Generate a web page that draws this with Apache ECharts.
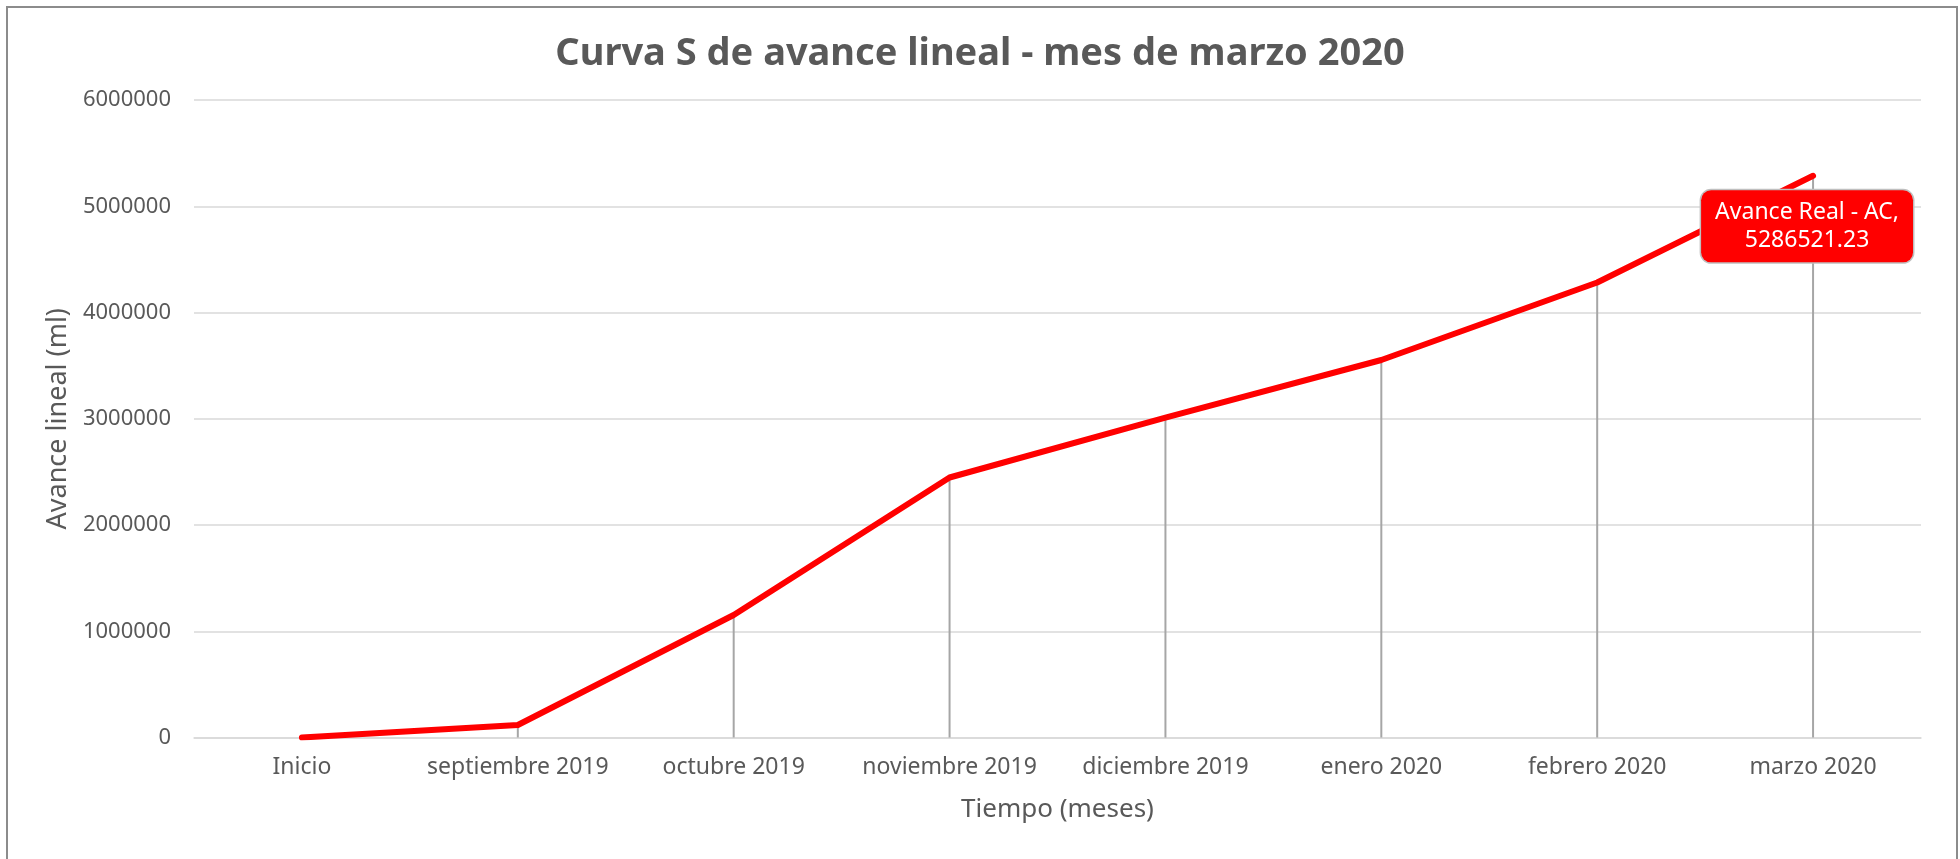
<!DOCTYPE html>
<html>
<head>
<meta charset="utf-8">
<title>Curva S de avance lineal</title>
<script src="https://cdn.jsdelivr.net/npm/echarts@6/dist/echarts.min.js"></script>
<style>
  html, body { margin: 0; padding: 0; background: #fff; }
  #chart { width: 1960px; height: 859px; }
</style>
</head>
<body>
<div id="chart"></div>
<script>
  // meses del avance
  const categories = ['Inicio', 'septiembre 2019', 'octubre 2019', 'noviembre 2019',
    'diciembre 2019', 'enero 2020', 'febrero 2020', 'marzo 2020'];
  // avance real acumulado (ml)
  const avanceReal = [0, 118000, 1153000, 2447000, 3010000, 3553000, 4282000, 5286521.23];
  const yTicks = [0, 1000000, 2000000, 3000000, 4000000, 5000000, 6000000];

  const fontFamily = '"Noto Sans", sans-serif';
  const textColor = '#595959';
  const last = avanceReal.length - 1;

  let option = {
    textStyle: { fontFamily: fontFamily },
    title: {
      text: 'Curva S de avance lineal - mes de marzo 2020',
      left: 'center',
      top: 30,
      textStyle: {
        color: textColor,
        fontSize: 38,
        fontWeight: 'bold',
        fontFamily: fontFamily
      }
    },
    // marco del grafico
    graphic: [{
      type: 'rect',
      silent: true,
      shape: { x: 7, y: 7, width: 1950, height: 900 },
      style: { fill: 'none', stroke: '#8c8c8c', lineWidth: 2 }
    }],
    grid: {
      left: 194,
      right: 39,
      top: 100,
      bottom: 121.5
    },
    xAxis: {
      type: 'category',
      data: categories,
      name: 'Tiempo (meses)',
      nameLocation: 'middle',
      nameGap: 59,
      nameTextStyle: { color: textColor, fontSize: 26 },
      axisLine: { lineStyle: { color: '#d9d9d9', width: 1.5 } },
      axisTick: { show: false },
      axisLabel: { color: textColor, fontSize: 23, margin: 18, interval: 0 }
    },
    yAxis: {
      type: 'value',
      min: yTicks[0],
      max: yTicks[yTicks.length - 1],
      interval: yTicks[1] - yTicks[0],
      name: 'Avance lineal (ml)',
      nameLocation: 'middle',
      nameGap: 114,
      nameTextStyle: { color: textColor, fontSize: 27 },
      axisLine: { show: false },
      axisTick: { show: false },
      axisLabel: {
        color: textColor,
        fontSize: 22,
        margin: 23,
        formatter: function (v) { return String(v); }
      },
      splitLine: { lineStyle: { color: '#d9d9d9', width: 1.5 } }
    },
    series: [
      {
        // lineas de proyeccion
        name: 'proyeccion',
        type: 'bar',
        barWidth: 2,
        silent: true,
        itemStyle: { color: '#a6a6a6' },
        data: avanceReal,
        z: 1
      },
      {
        name: 'Avance Real - AC',
        type: 'line',
        symbol: 'circle',
        symbolSize: 1,
        itemStyle: { color: '#ff0000' },
        lineStyle: { color: '#ff0000', width: 6, cap: 'round', join: 'round' },
        z: 3,
        data: avanceReal.map(function (v, i) {
          if (i !== last) return v;
          return {
            value: v,
            label: {
              show: true,
              position: 'bottom',
              distance: 14,
              offset: [-6, 0],
              formatter: function (p) { return p.seriesName + ',\n' + p.value; },
              color: '#ffffff',
              fontSize: 23,
              lineHeight: 28,
              align: 'center',
              backgroundColor: '#ff0000',
              borderColor: '#bfbfbf',
              borderWidth: 1.5,
              borderRadius: 10,
              padding: [8, 14]
            }
          };
        })
      }
    ]
  };

  let myChart = echarts.init(document.getElementById('chart'));
  myChart.setOption(option);
</script>
</body>
</html>
